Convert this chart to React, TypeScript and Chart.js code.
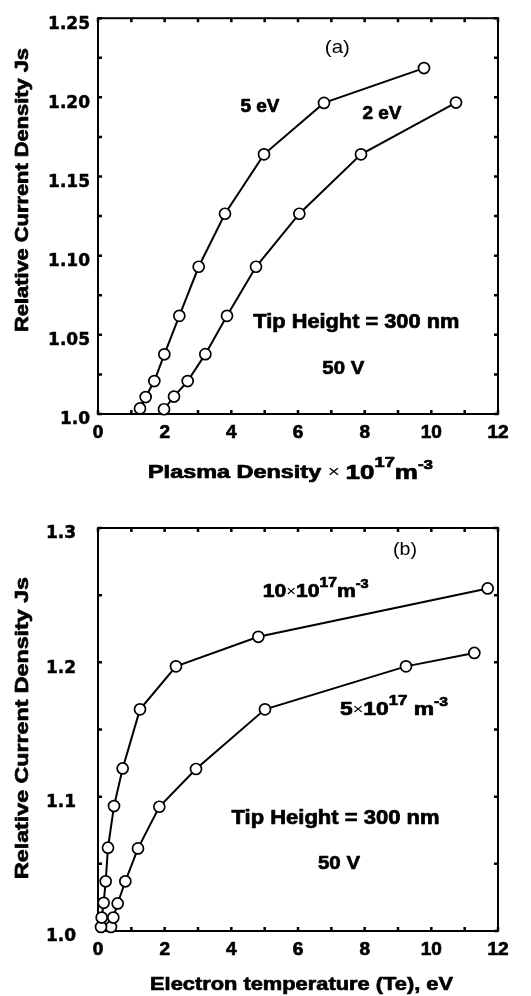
import { useEffect, useRef } from 'react';
import { Chart, registerables } from 'chart.js';

Chart.register(...registerables);

// ---------- Panel (a): current density vs plasma density ----------
const densityAt5eV = [1.26, 1.43, 1.69, 1.99, 2.44, 3.02, 3.81, 4.98, 6.78, 9.78];
const currentAt5eV = [1.0035, 1.0107, 1.0208, 1.0377, 1.062, 1.093, 1.1265, 1.164, 1.1965, 1.2185];
const densityAt2eV = [1.98, 2.28, 2.69, 3.22, 3.87, 4.74, 6.04, 7.89, 10.74];
const currentAt2eV = [1.003, 1.011, 1.0208, 1.0378, 1.062, 1.093, 1.1265, 1.164, 1.1967];

const xTickValues = [0, 2, 4, 6, 8, 10, 12];
const xTickLabels = ['0', '2', '4', '6', '8', '10', '12'];
const yTickValuesA = [1.0, 1.05, 1.1, 1.15, 1.2, 1.25];
const yTickLabelsA = ['1.0', '1.05', '1.10', '1.15', '1.20', '1.25'];

// ---------- Panel (b): current density vs electron temperature ----------
const temperatureAt10e17 = [0.09, 0.11, 0.17, 0.23, 0.3, 0.48, 0.74, 1.26, 2.34, 4.81, 11.69];
const currentAt10e17 = [1.003, 1.01, 1.021, 1.037, 1.062, 1.093, 1.121, 1.165, 1.197, 1.219, 1.255];
const temperatureAt5e17 = [0.39, 0.46, 0.59, 0.82, 1.2, 1.84, 2.94, 5.01, 9.24, 11.29];
const currentAt5e17 = [1.003, 1.01, 1.0205, 1.037, 1.0615, 1.0925, 1.1206, 1.165, 1.197, 1.207];

const yTickValuesB = [1.0, 1.1, 1.2, 1.3];
const yTickLabelsB = ['1.0', '1.1', '1.2', '1.3'];

type Seg = { t: string; size: number; bold?: boolean; rise?: number };
type TextItem = {
  segs: Seg[];
  x: number;
  y: number;
  data?: boolean;
  width?: number;
  align?: 'center' | 'left';
  rotate?: boolean;
};

const FAMILY = '"Liberation Sans", Arial, Helvetica, sans-serif';

function drawRich(ctx: CanvasRenderingContext2D, chart: any, item: TextItem) {
  let x = item.x;
  let y = item.y;
  if (item.data) {
    x = chart.scales.x.getPixelForValue(item.x);
    y = chart.scales.y.getPixelForValue(item.y);
  }
  ctx.save();
  ctx.fillStyle = '#000';
  ctx.strokeStyle = '#000';
  ctx.lineJoin = 'round';
  ctx.textBaseline = 'middle';
  ctx.textAlign = 'left';
  const fontOf = (s: Seg) => `${s.bold === false ? 'normal' : 'bold'} ${s.size}px ${FAMILY}`;
  let natural = 0;
  const widths = item.segs.map((s) => {
    ctx.font = fontOf(s);
    const w = ctx.measureText(s.t).width;
    natural += w;
    return w;
  });
  const sx = item.width ? item.width / natural : 1;
  ctx.translate(x, y);
  if (item.rotate) ctx.rotate(-Math.PI / 2);
  ctx.scale(sx, 1);
  let cx = item.align === 'left' ? 0 : -natural / 2;
  item.segs.forEach((s, i) => {
    ctx.font = fontOf(s);
    ctx.fillText(s.t, cx, -(s.rise || 0));
    if (s.bold !== false) {
      ctx.lineWidth = 0.7;
      ctx.strokeText(s.t, cx, -(s.rise || 0));
    }
    cx += widths[i];
  });
  ctx.restore();
}

const framePlugin = {
  id: 'paperFrame',
  beforeDatasetsDraw(chart: any) {
    const { ctx, chartArea } = chart;
    const { left, right, top, bottom } = chartArea;
    ctx.save();
    ctx.strokeStyle = '#000';
    ctx.lineWidth = 2;
    ctx.strokeRect(left, top, right - left, bottom - top);
    ctx.lineWidth = 2.5;
    const len = 4;
    const xs = chart.scales.x;
    xs.ticks.forEach((t: any) => {
      const px = xs.getPixelForValue(t.value);
      ctx.beginPath();
      ctx.moveTo(px, bottom);
      ctx.lineTo(px, bottom - len);
      ctx.moveTo(px, top);
      ctx.lineTo(px, top + len);
      ctx.stroke();
    });
    const ys = chart.scales.y;
    ys.ticks.forEach((t: any) => {
      const py = ys.getPixelForValue(t.value);
      ctx.beginPath();
      ctx.moveTo(left, py);
      ctx.lineTo(left + len, py);
      ctx.moveTo(right, py);
      ctx.lineTo(right - len, py);
      ctx.stroke();
    });
    ctx.restore();
  },
};

function textPlugin(items: TextItem[]) {
  return {
    id: 'paperText',
    afterDraw(chart: any) {
      items.forEach((it) => drawRich(chart.ctx, chart, it));
    },
  };
}

function lineDataset(xs: number[], ys: number[]) {
  return {
    data: xs.map((x, i) => ({ x, y: ys[i] })),
    borderColor: '#000',
    borderWidth: 2,
    pointRadius: 5.5,
    pointBorderWidth: 1.7,
    pointBackgroundColor: '#fff',
    pointBorderColor: '#000',
    pointHoverRadius: 5.5,
    tension: 0,
    fill: false,
    clip: false,
  };
}

function labelFrom(values: number[], labels: string[]) {
  return (v: any) => {
    const idx = values.findIndex((t) => Math.abs(t - Number(v)) < 1e-6);
    return idx >= 0 ? labels[idx] : '';
  };
}

function makeConfig(opts: {
  datasets: any[];
  yMin: number;
  yMax: number;
  yStep: number;
  yValues: number[];
  yLabels: string[];
  yPad: number;
  top: number;
  xHeight: number;
  texts: TextItem[];
}) {
  return {
    type: 'line',
    data: { datasets: opts.datasets },
    options: {
      responsive: false,
      animation: false,
      events: [],
      layout: { padding: { left: 0, right: 33, top: opts.top, bottom: 0 } },
      plugins: { legend: { display: false }, tooltip: { enabled: false } },
      scales: {
        x: {
          type: 'linear',
          min: 0,
          max: 12,
          afterFit: (s: any) => {
            s.height = opts.xHeight;
          },
          grid: { display: false, drawTicks: false },
          border: { display: false },
          ticks: {
            stepSize: 1,
            autoSkip: false,
            maxRotation: 0,
            padding: 7,
            color: '#000',
            textStrokeColor: '#000',
            textStrokeWidth: 0.7,
            font: { family: FAMILY, size: 19, weight: 'bold' },
            callback: labelFrom(xTickValues, xTickLabels),
          },
        },
        y: {
          type: 'linear',
          min: opts.yMin,
          max: opts.yMax,
          afterFit: (s: any) => {
            s.width = 98;
          },
          grid: { display: false, drawTicks: false },
          border: { display: false },
          ticks: {
            stepSize: opts.yStep,
            autoSkip: false,
            padding: opts.yPad,
            labelOffset: 6,
            color: '#000',
            textStrokeColor: '#000',
            textStrokeWidth: 0.5,
            font: { family: '"DejaVu Sans", sans-serif', size: 17, weight: 'bold' },
            callback: labelFrom(opts.yValues, opts.yLabels),
          },
        },
      },
    },
    plugins: [framePlugin, textPlugin(opts.texts)],
  } as any;
}

const yTitle = 'Relative Current Density Js';

const textsA: TextItem[] = [
  { segs: [{ t: '(a)', size: 19, bold: false }], x: 7.18, y: 1.2316, data: true, width: 25 },
  { segs: [{ t: '5 eV', size: 18 }], x: 4.86, y: 1.1938, data: true, width: 39 },
  { segs: [{ t: '2 eV', size: 18 }], x: 8.52, y: 1.1892, data: true, width: 39 },
  { segs: [{ t: 'Tip Height = 300 nm', size: 20 }], x: 7.75, y: 1.0577, data: true, width: 206 },
  { segs: [{ t: '50 V', size: 19 }], x: 7.36, y: 1.0284, data: true, width: 42 },
  {
    segs: [
      { t: 'Plasma Density ', size: 18 },
      { t: '\u00d7 ', size: 16, bold: false },
      { t: '10', size: 20 },
      { t: '17', size: 14, rise: 10 },
      { t: 'm', size: 20 },
      { t: '-3', size: 13, rise: 8 },
    ],
    x: 148,
    y: 473,
    align: 'left',
    width: 285,
  },
  { segs: [{ t: yTitle, size: 19 }], x: 23, y: 190, rotate: true, width: 284 },
];

const textsB: TextItem[] = [
  { segs: [{ t: '(b)', size: 19, bold: false }], x: 9.21, y: 1.2836, data: true, width: 24 },
  {
    segs: [
      { t: '10', size: 19 },
      { t: '\u00d7', size: 15, bold: false },
      { t: '10', size: 19 },
      { t: '17', size: 14, rise: 9 },
      { t: 'm', size: 19 },
      { t: '-3', size: 13, rise: 8 },
    ],
    x: 6.53,
    y: 1.2523,
    data: true,
    width: 106,
  },
  {
    segs: [
      { t: '5', size: 19 },
      { t: '\u00d7', size: 15, bold: false },
      { t: '10', size: 19 },
      { t: '17', size: 14, rise: 9 },
      { t: ' m', size: 19 },
      { t: '-3', size: 13, rise: 8 },
    ],
    x: 8.88,
    y: 1.1645,
    data: true,
    width: 108,
  },
  { segs: [{ t: 'Tip Height = 300 nm', size: 20 }], x: 7.125, y: 1.0838, data: true, width: 208 },
  { segs: [{ t: '50 V', size: 19 }], x: 7.23, y: 1.05, data: true, width: 42 },
  {
    segs: [{ t: 'Electron temperature (Te), eV', size: 19 }],
    x: 150,
    y: 495,
    align: 'left',
    width: 303,
  },
  { segs: [{ t: yTitle, size: 19 }], x: 23, y: 238, rotate: true, width: 302 },
];

function Panel(props: { config: () => any; height: number; top: number }) {
  const ref = useRef<HTMLCanvasElement | null>(null);
  useEffect(() => {
    if (!ref.current) return;
    const chart = new Chart(ref.current, props.config());
    return () => chart.destroy();
  }, []);
  return (
    <canvas
      ref={ref}
      width={531}
      height={props.height}
      style={{ position: 'absolute', left: 0, top: props.top, width: 531, height: props.height, display: 'block' }}
    />
  );
}

export default function App() {
  const configA = () =>
    makeConfig({
      datasets: [lineDataset(densityAt5eV, currentAt5eV), lineDataset(densityAt2eV, currentAt2eV)],
      yMin: 1.0,
      yMax: 1.25,
      yStep: 0.025,
      yValues: yTickValuesA,
      yLabels: yTickLabelsA,
      yPad: 8,
      top: 11,
      xHeight: 76,
      texts: textsA,
    });
  const configB = () =>
    makeConfig({
      datasets: [lineDataset(temperatureAt10e17, currentAt10e17), lineDataset(temperatureAt5e17, currentAt5e17)],
      yMin: 1.0,
      yMax: 1.3,
      yStep: 0.05,
      yValues: yTickValuesB,
      yLabels: yTickLabelsB,
      yPad: 22,
      top: 38,
      xHeight: 65,
      texts: textsB,
    });
  return (
    <div style={{ position: 'absolute', left: 0, top: 0, width: 531, height: 996, background: '#fff' }}>
      <Panel config={configA} height={490} top={0} />
      <Panel config={configB} height={506} top={490} />
    </div>
  );
}
